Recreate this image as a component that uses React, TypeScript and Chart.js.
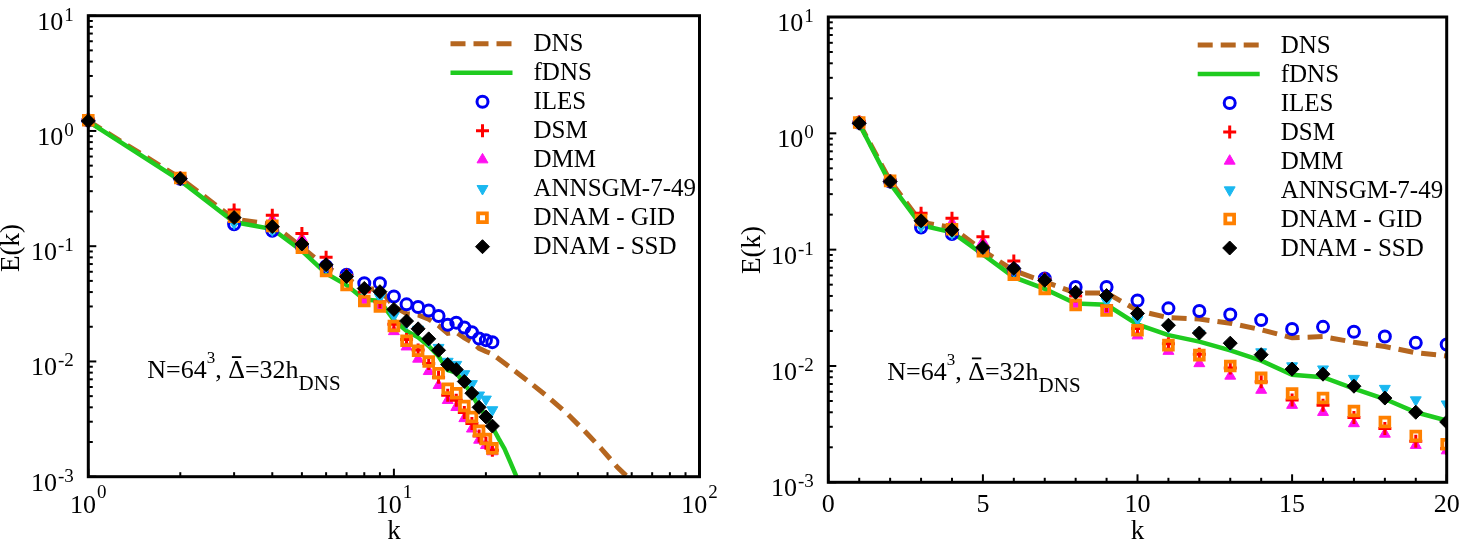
import React, { useEffect, useRef } from 'react';
import { Chart, registerables } from 'chart.js';
import { drawPoint } from 'chart.js/helpers';

Chart.register(...registerables);

// ---------------- data ----------------
const kModel = [1, 2, 3, 4, 5, 6, 7, 8, 9, 10, 11, 12, 13, 14, 15, 16, 17, 18, 19, 20, 21];
const ilesE = [1.23, 0.385, 0.155, 0.136, 0.099, 0.067, 0.0565, 0.0478, 0.0478, 0.0366, 0.0313, 0.0297, 0.0277, 0.0248, 0.0208, 0.0217, 0.0197, 0.0179, 0.0158, 0.0153, 0.0147];
const dsmE = [1.25, 0.39, 0.206, 0.186, 0.129, 0.08, 0.056, 0.04, 0.033, 0.021, 0.0155, 0.0126, 0.0096, 0.0073, 0.0051, 0.0046, 0.0036, 0.0029, 0.00225, 0.00195, 0.0017];
const dmmE = [1.25, 0.39, 0.195, 0.17, 0.117, 0.072, 0.054, 0.034, 0.03, 0.0182, 0.0134, 0.0105, 0.0082, 0.0062, 0.0046, 0.004, 0.0032, 0.0026, 0.00208, 0.00187, 0.00165];
const annE = [1.24, 0.385, 0.158, 0.138, 0.1, 0.066, 0.054, 0.041, 0.036, 0.025, 0.0216, 0.019, 0.0152, 0.0132, 0.01, 0.0094, 0.0078, 0.0064, 0.0051, 0.0047, 0.0038];
const gidE = [1.24, 0.39, 0.18, 0.15, 0.097, 0.061, 0.046, 0.0335, 0.03, 0.0203, 0.0151, 0.0124, 0.01, 0.0079, 0.0058, 0.0053, 0.0041, 0.0033, 0.0025, 0.00212, 0.00176];
const ssdE = [1.22, 0.385, 0.177, 0.148, 0.1045, 0.069, 0.0545, 0.043, 0.0403, 0.0283, 0.0224, 0.0192, 0.0157, 0.0125, 0.0094, 0.0085, 0.0067, 0.0053, 0.004, 0.0033, 0.00275];
const dnsK = [1, 2, 3, 4, 5, 6, 7, 8, 9, 10, 11, 12, 13, 14, 15, 16, 17, 18, 19, 20, 21, 25, 28, 32, 37, 43, 48, 54, 58, 62];
const dnsE = [1.22, 0.39, 0.172, 0.155, 0.098, 0.066, 0.053, 0.0425, 0.0425, 0.03, 0.026, 0.0253, 0.0233, 0.0205, 0.0175, 0.0179, 0.016, 0.0147, 0.013, 0.0122, 0.0116, 0.0082, 0.0065, 0.0049, 0.0035, 0.00235, 0.00172, 0.0012, 0.001, 0.00082];
const fdnsK = [1, 2, 3, 4, 5, 6, 7, 8, 9, 10, 11, 12, 13, 14, 15, 16, 17, 18, 19, 20, 21, 22, 23, 24, 25, 26];
const fdnsE = [1.21, 0.37, 0.162, 0.141, 0.091, 0.058, 0.046, 0.0345, 0.0336, 0.0228, 0.0184, 0.0162, 0.0136, 0.0111, 0.0084, 0.008, 0.0064, 0.0052, 0.004, 0.0034, 0.0027, 0.00215, 0.00175, 0.00135, 0.00105, 0.0008];

const seriesLabels = ['DNS', 'fDNS', 'ILES', 'DSM', 'DMM', 'ANNSGM-7-49', 'DNAM - GID', 'DNAM - SSD'];
const xTitle = 'k';
const yTitle = 'E(k)';
const linearXLabelStep = 5;
const annotationRuns = [
  { t: 'N=64', kind: 'base' },
  { t: '3', kind: 'sup' },
  { t: ', ', kind: 'base' },
  { t: 'Δ', kind: 'bar' },
  { t: '=32h', kind: 'base' },
  { t: 'DNS', kind: 'sub' },
];

// ---------------- styles ----------------
const SERIF = "'Liberation Serif', 'Times New Roman', serif";

type S = {
  k: number[]; e: number[]; line: boolean; color: string; dash?: number[]; width?: number;
  style?: string; radius?: number; bw?: number; rot?: number; fill?: boolean; order: number;
};
const STYLES: S[] = [
  { k: dnsK, e: dnsE, line: true, color: '#b5661f', dash: [15, 8], width: 5, order: 10 },
  { k: fdnsK, e: fdnsE, line: true, color: '#1fcb1f', width: 4.5, order: 9 },
  { k: kModel, e: ilesE, line: false, color: '#0000f5', style: 'circle', radius: 5.5, bw: 3, fill: false, order: 6 },
  { k: kModel, e: dsmE, line: false, color: '#ff0000', style: 'cross', radius: 6.5, bw: 3, order: 4 },
  { k: kModel, e: dmmE, line: false, color: '#ff10f0', style: 'triangle', radius: 6.3, bw: 1, fill: true, order: 5 },
  { k: kModel, e: annE, line: false, color: '#1ab8f0', style: 'triangle', rot: 180, radius: 6.3, bw: 1, fill: true, order: 3 },
  { k: kModel, e: gidE, line: false, color: '#ff8000', style: 'rect', radius: 6.2, bw: 3.8, fill: false, order: 2 },
  { k: kModel, e: ssdE, line: false, color: '#000000', style: 'rectRot', radius: 7, bw: 1, fill: true, order: 1 },
];

const GEOM: any = {
  left: {
    x: 0, w: 730, xLog: true,
    pad: { left: 88.3, right: 30.5, top: 15.7, bottom: 64.3 },
    yTitleX: 12, yTitleY: 248,
  },
  right: {
    x: 730, w: 729, xLog: false,
    pad: { left: 98.3, right: 12.3, top: 17, bottom: 58.7 },
    yTitleX: 23, yTitleY: 250,
  },
};

function isPow10(v: number) {
  const l = Math.log10(v);
  return Math.abs(l - Math.round(l)) < 1e-6;
}
function isIntMantissa(v: number) {
  const e = Math.floor(Math.log10(v) + 1e-9);
  const m = v / Math.pow(10, e);
  return Math.abs(m - Math.round(m)) < 1e-6;
}

const decorPlugin: any = {
  id: 'decor',
  afterDatasetsDraw(chart: any, _args: any, opts: any) {
    const { ctx, chartArea: a } = chart;
    const xs = chart.scales.x;
    const ys = chart.scales.y;
    ctx.save();
    ctx.strokeStyle = '#000';
    ctx.fillStyle = '#000';
    ctx.setLineDash([]);
    // ticks (inside)
    ctx.lineWidth = 2;
    for (const t of ys.ticks) {
      if (!isIntMantissa(t.value)) continue;
      const y = ys.getPixelForValue(t.value);
      if (y < a.top - 1 || y > a.bottom + 1) continue;
      const len = isPow10(t.value) ? 8 : 4.5;
      ctx.beginPath(); ctx.moveTo(a.left, y); ctx.lineTo(a.left + len, y); ctx.stroke();
    }
    for (const t of xs.ticks) {
      let major: boolean;
      if (opts.xLog) {
        if (!isIntMantissa(t.value)) continue;
        major = isPow10(t.value);
      } else {
        major = Math.round(t.value) % linearXLabelStep === 0;
      }
      const x = xs.getPixelForValue(t.value);
      if (x < a.left - 1 || x > a.right + 1) continue;
      const len = major ? 8 : 4.5;
      ctx.beginPath(); ctx.moveTo(x, a.bottom); ctx.lineTo(x, a.bottom - len); ctx.stroke();
    }
    // frame
    ctx.lineWidth = 3;
    ctx.strokeRect(a.left, a.top, a.right - a.left, a.bottom - a.top);

    // tick labels
    const baseFont = `26px ${SERIF}`;
    const expFont = `19px ${SERIF}`;
    ctx.textBaseline = 'alphabetic';
    ctx.textAlign = 'left';
    for (const t of ys.ticks) {
      if (!isPow10(t.value)) continue;
      const y = ys.getPixelForValue(t.value);
      const es = String(Math.round(Math.log10(t.value)));
      ctx.font = baseFont; const bw = ctx.measureText('10').width;
      ctx.font = expFont; const ew = ctx.measureText(es).width;
      const xEnd = a.left - 14.5;
      ctx.font = baseFont; ctx.fillText('10', xEnd - ew - bw - 1, y + 14);
      ctx.font = expFont; ctx.fillText(es, xEnd - ew, y + 5);
    }
    for (const t of xs.ticks) {
      const x = xs.getPixelForValue(t.value);
      if (opts.xLog) {
        if (!isPow10(t.value)) continue;
        const es = String(Math.round(Math.log10(t.value)));
        ctx.font = baseFont; const bw = ctx.measureText('10').width;
        ctx.font = expFont; const ew = ctx.measureText(es).width;
        const x0 = x - (bw + ew + 1) / 2;
        ctx.font = baseFont; ctx.fillText('10', x0, a.bottom + 36);
        ctx.font = expFont; ctx.fillText(es, x0 + bw + 1, a.bottom + 21);
      } else {
        if (Math.round(t.value) % linearXLabelStep !== 0) continue;
        ctx.font = baseFont; ctx.textAlign = 'center';
        ctx.fillText(String(t.value), x, a.bottom + 29.5);
        ctx.textAlign = 'left';
      }
    }

    // axis titles
    ctx.font = `27px ${SERIF}`;
    ctx.textAlign = 'center';
    ctx.fillText(xTitle, (a.left + a.right) / 2, 539);
    ctx.save();
    ctx.translate(opts.yTitleX, opts.yTitleY);
    ctx.rotate(-Math.PI / 2);
    ctx.textBaseline = 'middle';
    ctx.fillText(yTitle, 0, 0);
    ctx.restore();

    // annotation
    ctx.textAlign = 'left';
    ctx.textBaseline = 'alphabetic';
    let ax = a.left + 59;
    const ay = a.top + 362.5;
    for (const r of annotationRuns) {
      let font = `26px ${SERIF}`; let dy = 0;
      if (r.kind === 'sup') { font = `17px ${SERIF}`; dy = -15; }
      if (r.kind === 'sub') { font = `21px ${SERIF}`; dy = 12; }
      ctx.font = font;
      ctx.fillText(r.t, ax, ay + dy);
      const w = ctx.measureText(r.t).width;
      if (r.kind === 'bar') {
        ctx.fillRect(ax + w * 0.22, ay - 22, w * 0.56, 1.8);
      }
      ax += w;
    }

    // legend
    const ds = chart.data.datasets;
    for (let i = 0; i < ds.length; i++) {
      const d = ds[i];
      const y = a.top + 28 + i * 29;
      ctx.save();
      if (d.showLine) {
        ctx.strokeStyle = d.borderColor;
        ctx.lineWidth = d.borderWidth;
        ctx.setLineDash(d.borderDash || []);
        ctx.lineCap = 'butt';
        ctx.beginPath(); ctx.moveTo(a.right - 249, y); ctx.lineTo(a.right - 187, y); ctx.stroke();
      } else {
        ctx.strokeStyle = d.pointBorderColor;
        ctx.fillStyle = d.pointBackgroundColor;
        ctx.lineWidth = d.pointBorderWidth;
        drawPoint(ctx, { pointStyle: d.pointStyle, rotation: d.pointRotation || 0, radius: d.pointRadius, borderWidth: d.pointBorderWidth }, a.right - 217, y);
      }
      ctx.restore();
      ctx.font = `25px ${SERIF}`;
      ctx.textBaseline = 'middle';
      ctx.textAlign = 'left';
      ctx.fillStyle = '#000';
      ctx.fillText(d.label, a.right - 166, y + 1);
    }
    ctx.restore();
  },
};

function buildConfig(side: 'left' | 'right'): any {
  const g = GEOM[side];
  const datasets = STYLES.map((s, i) => {
    const data = s.k.map((k, j) => ({ x: k, y: s.e[j] }));
    if (s.line) {
      return {
        label: seriesLabels[i], data, showLine: true, borderColor: s.color, backgroundColor: s.color,
        borderWidth: s.width, borderDash: s.dash || [], pointRadius: 0, tension: 0, fill: false,
        order: s.order, clip: 0,
      };
    }
    return {
      label: seriesLabels[i], data, showLine: false, pointStyle: s.style, pointRadius: s.radius,
      pointHoverRadius: s.radius, pointBorderWidth: s.bw, pointBorderColor: s.color,
      pointBackgroundColor: s.fill ? s.color : 'rgba(0,0,0,0)', pointRotation: s.rot || 0,
      borderColor: s.color, backgroundColor: s.fill ? s.color : 'rgba(0,0,0,0)', order: s.order,
      clip: { left: 8, top: 0, right: 0, bottom: 0 },
    };
  });
  const hideAxis = (horizontal: boolean) => ({
    display: true,
    ticks: { display: false },
    grid: { display: false, drawTicks: false },
    border: { display: false },
    title: { display: false },
    afterFit: (s: any) => { if (horizontal) s.height = 0; else s.width = 0; },
  });
  return {
    type: 'scatter',
    data: { datasets },
    options: {
      responsive: false,
      animation: false,
      events: [],
      devicePixelRatio: 1,
      layout: { padding: g.pad },
      scales: {
        x: g.xLog
          ? { type: 'logarithmic', min: 1, max: 100, ...hideAxis(true) }
          : { type: 'linear', min: 0, max: 20, ...hideAxis(true), ticks: { display: false, stepSize: 1 } },
        y: { type: 'logarithmic', min: 0.001, max: 10, ...hideAxis(false) },
      },
      plugins: {
        legend: { display: false },
        tooltip: { enabled: false },
        decor: { xLog: g.xLog, yTitleX: g.yTitleX, yTitleY: g.yTitleY },
      },
    },
    plugins: [decorPlugin],
  };
}

function Panel({ side }: { side: 'left' | 'right' }) {
  const ref = useRef<HTMLCanvasElement>(null);
  useEffect(() => {
    const chart = new Chart(ref.current as HTMLCanvasElement, buildConfig(side));
    return () => chart.destroy();
  }, [side]);
  const g = GEOM[side];
  return (
    <canvas
      ref={ref}
      width={g.w}
      height={541}
      style={{ position: 'absolute', left: g.x, top: 0, width: g.w, height: 541 }}
    />
  );
}

export default function App() {
  return (
    <div style={{ position: 'absolute', left: 0, top: 0, width: 1459, height: 541, background: '#fff' }}>
      <Panel side="left" />
      <Panel side="right" />
    </div>
  );
}
